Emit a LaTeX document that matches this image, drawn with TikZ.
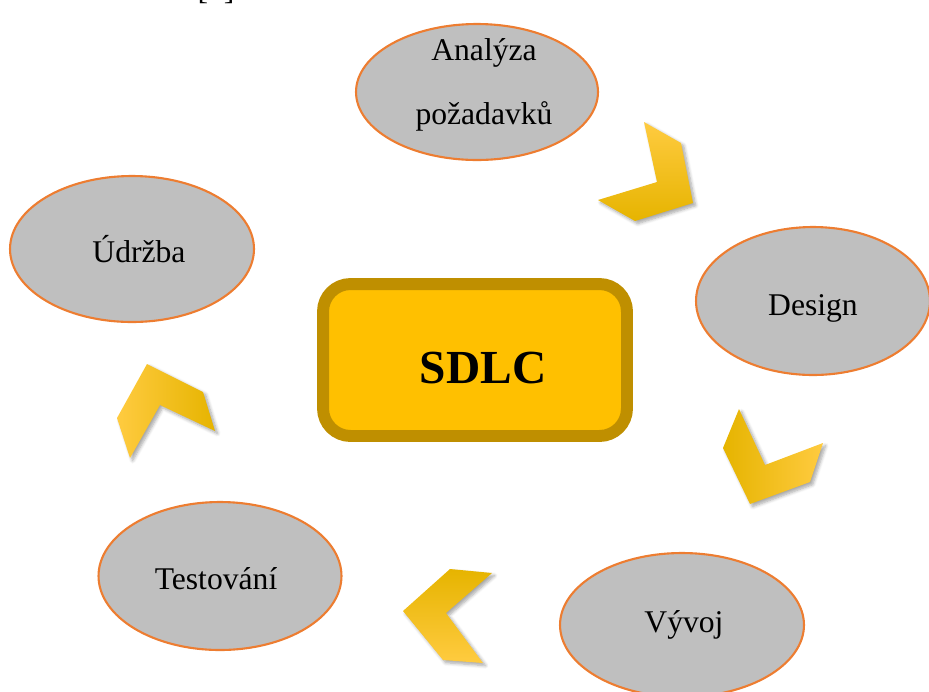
\documentclass[tikz,border=0pt]{standalone}
\usepackage{fontspec}
\setmainfont{Liberation Serif}
\usepackage{tikz}
\usetikzlibrary{shapes,shadows.blur,positioning}

\definecolor{phasegray}{HTML}{BFBFBF}
\definecolor{phaseline}{HTML}{ED7D31}
\definecolor{coreyellow}{HTML}{FFC000}
\definecolor{coreline}{HTML}{BF8F00}
\definecolor{arrlight}{HTML}{FFCB40}
\definecolor{arrdark}{HTML}{E6B400}

\tikzset{
  phase/.style={ellipse, draw=phaseline, line width=1.2pt, fill=phasegray, inner sep=0pt},
  phaselabel/.style={inner sep=0pt, align=center, font=\fontsize{18}{36.3}\selectfont},
  core/.style={rectangle, rounded corners=0.55cm, draw=coreline, line width=6.8pt,
    fill=coreyellow, minimum width=6.08cm, minimum height=3.04cm},
  chevron/.style={blur shadow={shadow xshift=1.5pt, shadow yshift=-1.5pt,
    shadow blur steps=6, shadow opacity=35}}
}

\begin{document}
\begin{tikzpicture}[x=0.02cm,y=-0.02cm]

\clip (0,0) rectangle (929,691);

\node[anchor=base, font=\fontsize{18}{22}\selectfont] (ref) at (216,-0.5) {[1]};

\node[phase, minimum width=4.84cm, minimum height=2.72cm] (ana) at (477,92) {};
\node[phase, minimum width=4.88cm, minimum height=2.92cm] (udr) at (132,249) {};
\node[phase, minimum width=4.68cm, minimum height=2.96cm] (des) at (813,301) {};
\node[phase, minimum width=4.88cm, minimum height=2.88cm] (vyv) at (682,625) {};
\node[phase, minimum width=4.86cm, minimum height=2.96cm] (tes) at (220,576) {};

\node[phaselabel] (anatext) at (484,84.5) {Analýza\\požadavků};
\node[phaselabel, anchor=base] (udrtext) at (139,262) {Údržba};
\node[phaselabel, anchor=base] (destext) at (813,315) {Design};
\node[phaselabel, anchor=base] (vyvtext) at (684,632) {Vývoj};
\node[phaselabel, anchor=base] (testext) at (216,589) {Testování};

\node[core] (sdlc) at (475,360) {};
\node[font=\fontsize{27}{30}\selectfont\bfseries] (sdlctext) at ([shift={(8,8)}]sdlc.center) {SDLC};

\path[chevron, top color=arrlight, bottom color=arrdark]
  (644,122) -- (681,143) -- (693,203) -- (635,221) -- (598,200) -- (657,182) -- cycle;
\path[chevron, left color=arrdark, right color=arrlight]
  (739,409) -- (765,465) -- (823,443) -- (810,482) -- (750,504) -- (723,448) -- cycle;
\path[chevron, top color=arrdark, bottom color=arrlight]
  (450,569) -- (492,573) -- (446,613) -- (483,663) -- (443,660) -- (403,611) -- cycle;
\path[chevron, left color=arrlight, right color=arrdark]
  (147,364) -- (203,392) -- (215,431) -- (160,405) -- (130,458) -- (117,418) -- cycle;

\end{tikzpicture}
\end{document}
